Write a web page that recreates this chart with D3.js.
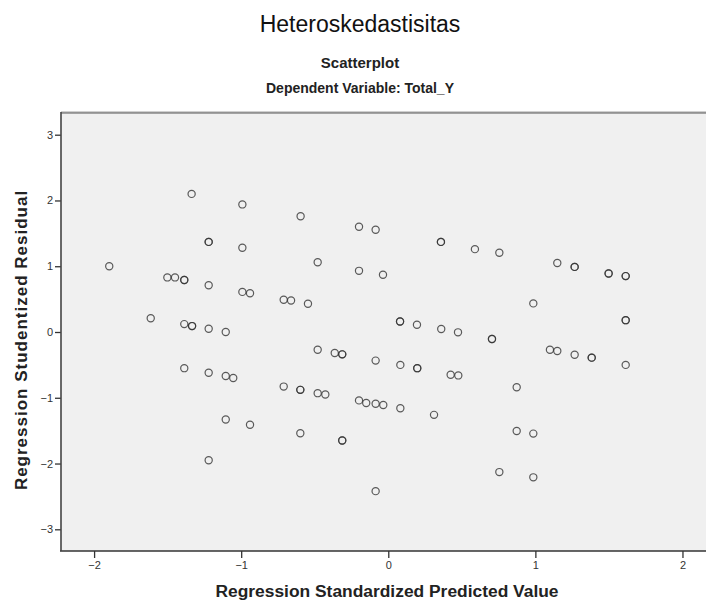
<!DOCTYPE html>
<html>
<head>
<meta charset="utf-8">
<script src="https://cdn.jsdelivr.net/npm/d3@7"></script>
<style>
  body { margin: 0; background: #fff; }
  svg { display: block; font-family: 'Liberation Sans', Arial, sans-serif; }
  .tick text { fill: #333; font-size: 11px; }
  .tick line { stroke: #333; stroke-width: 1.3; }
</style>
</head>
<body>
<div id="chart"></div>
<script>
'use strict'

/****** DATA ******/

const TITLE = 'Heteroskedastisitas'
const SUBTITLE = 'Scatterplot'
const DEP_VAR = 'Dependent Variable: Total_Y'
const X_LABEL = 'Regression Standardized Predicted Value'
const Y_LABEL = 'Regression Studentized Residual'

const xTicks = [-2, -1, 0, 1, 2]
const yTicks = [-3, -2, -1, 0, 1, 2, 3]

// standardized predicted value (repeated entries = overlapping cases)
const predicted = [
  -1.897, -1.337, -1.221, -1.221, -1.502, -1.450, -1.387, -1.387, -1.221, -0.992,
  -0.992, -0.992, -0.940, -1.615, -1.387, -1.334, -1.334, -1.221, -1.105, -1.387,
  -1.221, -1.105, -1.054, -1.105, -0.940, -1.221, -0.596, -0.199, -0.086, 0.358,
  0.358, 0.589, -0.480, -0.199, -0.036, -0.711, -0.661, -0.546, 0.080, 0.080,
  0.195, 0.360, 0.474, -0.480, -0.364, -0.313, -0.313, -0.086, 0.082, 0.197,
  0.197, 0.424, 0.476, -0.711, -0.598, -0.598, -0.480, -0.428, -0.199, -0.150,
  -0.086, -0.034, 0.082, 0.311, -0.598, -0.313, -0.313, -0.086, 0.755, 1.149,
  1.267, 1.267, 1.498, 1.498, 1.614, 1.614, 0.986, 1.614, 1.614, 0.705,
  0.705, 1.099, 1.149, 1.267, 1.383, 1.383, 1.614, 0.873, 0.873, 0.986,
  0.755, 0.986
]

// studentized residual
const residual = [
  1.00, 2.10, 1.37, 1.37, 0.83, 0.83, 0.79, 0.79, 0.71, 1.94,
  1.28, 0.61, 0.59, 0.21, 0.12, 0.09, 0.09, 0.05, 0.00, -0.55,
  -0.62, -0.67, -0.70, -1.33, -1.41, -1.95, 1.76, 1.60, 1.555, 1.37,
  1.37, 1.26, 1.06, 0.93, 0.87, 0.49, 0.48, 0.43, 0.16, 0.16,
  0.11, 0.045, -0.005, -0.27, -0.32, -0.34, -0.34, -0.435, -0.50, -0.55,
  -0.55, -0.65, -0.66, -0.83, -0.88, -0.88, -0.93, -0.95, -1.04, -1.08,
  -1.09, -1.11, -1.16, -1.26, -1.54, -1.65, -1.65, -2.42, 1.205, 1.05,
  0.99, 0.99, 0.89, 0.89, 0.85, 0.85, 0.435, 0.18, 0.18, -0.106,
  -0.106, -0.27, -0.29, -0.345, -0.39, -0.39, -0.50, -0.84, -1.505, -1.545,
  -2.13, -2.21
]

const points = predicted.map((p, i) => ({x: p, y: residual[i]}))


/****** CHART ******/

const width = 706, height = 606
const plot = {left: 61, right: 706, top: 113, bottom: 551}

const x = d3.scaleLinear()
  .domain([-2.225, 2.16])
  .range([plot.left, plot.right])
const y = d3.scaleLinear()
  .domain([-3.33, 3.33])
  .range([plot.bottom, plot.top])

const svg = d3.select('#chart').append('svg')
  .attr('width', width)
  .attr('height', height)

// plot background
svg.append('rect')
  .attr('x', plot.left)
  .attr('y', plot.top)
  .attr('width', plot.right - plot.left)
  .attr('height', plot.bottom - plot.top)
  .attr('fill', '#f0f0f0')

// top frame (dark line with a soft grey edge above)
svg.append('line')
  .attr('x1', plot.left).attr('x2', plot.right)
  .attr('y1', plot.top - 1).attr('y2', plot.top - 1)
  .attr('stroke', '#a0a0a0')
svg.append('line')
  .attr('x1', plot.left).attr('x2', plot.right)
  .attr('y1', plot.top).attr('y2', plot.top)
  .attr('stroke', '#555')

// axes
const xAxis = svg.append('g')
  .attr('transform', `translate(0,${plot.bottom})`)
  .call(d3.axisBottom(x).tickValues(xTicks).tickSize(7).tickPadding(3).tickFormat(d3.format('d')))
const yAxis = svg.append('g')
  .attr('transform', `translate(${plot.left},0)`)
  .call(d3.axisLeft(y).tickValues(yTicks).tickSize(6).tickPadding(2).tickFormat(d3.format('d')))

for (const a of [xAxis, yAxis]) {
  a.select('.domain').remove()
}

// axis lines drawn separately so they run the full plot edge
svg.append('line')
  .attr('x1', plot.left - 1).attr('x2', plot.right)
  .attr('y1', plot.bottom).attr('y2', plot.bottom)
  .attr('stroke', '#333').attr('stroke-width', 1.6)
svg.append('line')
  .attr('x1', plot.left).attr('x2', plot.left)
  .attr('y1', plot.top - 1).attr('y2', plot.bottom)
  .attr('stroke', '#444').attr('stroke-width', 1.6)

// points
svg.append('g')
  .selectAll('circle')
  .data(points)
  .join('circle')
    .attr('cx', d => x(d.x))
    .attr('cy', d => y(d.y))
    .attr('r', 3.6)
    .attr('fill', 'none')
    .attr('stroke', '#333')
    .attr('stroke-opacity', 0.8)
    .attr('stroke-width', 1.2)


/****** TEXTS ******/

svg.append('text')
  .attr('x', 360).attr('y', 32)
  .attr('text-anchor', 'middle')
  .attr('font-size', 23)
  .attr('fill', '#111')
  .text(TITLE)

svg.append('text')
  .attr('x', 360).attr('y', 68)
  .attr('text-anchor', 'middle')
  .attr('font-size', 15).attr('font-weight', 'bold')
  .attr('fill', '#222')
  .text(SUBTITLE)

svg.append('text')
  .attr('x', 360).attr('y', 93)
  .attr('text-anchor', 'middle')
  .attr('font-size', 14).attr('font-weight', 'bold')
  .attr('fill', '#222')
  .text(DEP_VAR)

svg.append('text')
  .attr('x', 387).attr('y', 597)
  .attr('text-anchor', 'middle')
  .attr('font-size', 17.4).attr('font-weight', 'bold')
  .attr('fill', '#222')
  .text(X_LABEL)

svg.append('text')
  .attr('transform', `translate(27,340) rotate(-90)`)
  .attr('text-anchor', 'middle')
  .attr('font-size', 17).attr('font-weight', 'bold')
  .attr('letter-spacing', 1)
  .attr('fill', '#222')
  .text(Y_LABEL)
</script>
</body>
</html>
